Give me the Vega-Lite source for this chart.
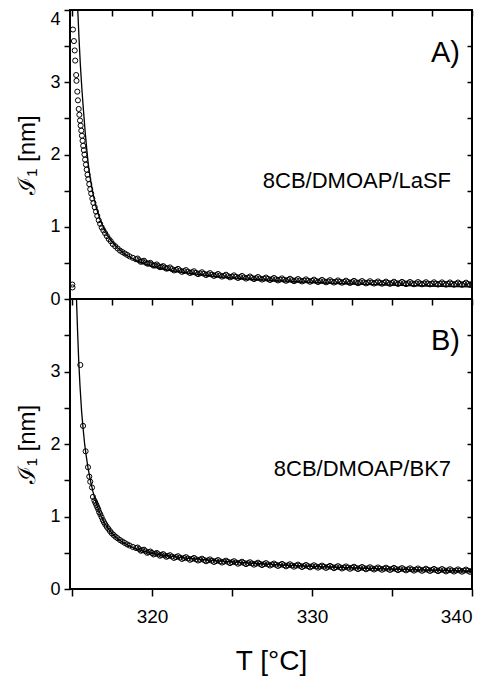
{
"$schema": "https://vega.github.io/schema/vega-lite/v6.json",
"background": "white",
"padding": {"left": 14, "top": 8, "right": 10, "bottom": 0},
"bounds": "flush",
"spacing": 0,
"config": {
 "view": {"stroke": "black", "strokeWidth": 2},
 "axis": {"labelFont": "Liberation Sans", "titleFont": "Liberation Sans", "labelColor": "black", "titleColor": "black", "tickColor": "black", "grid": false, "domain": false, "titleFontWeight": "normal", "tickWidth": 1.5},
 "text": {"font": "Liberation Sans", "color": "black"}
},
"datasets": {
 "ptsA": [{"T":315.02,"v":0.20},{"T":315.03,"v":0.16},{"T":315.06,"v":3.73},{"T":315.12,"v":3.57},{"T":315.17,"v":3.44},{"T":315.2,"v":3.30},{"T":315.26,"v":3.10},{"T":315.28,"v":3.02},{"T":315.33,"v":2.87},{"T":315.37,"v":2.75},{"T":315.42,"v":2.63},{"T":315.46,"v":2.55},{"T":315.5,"v":2.47},{"T":315.54,"v":2.40},{"T":315.58,"v":2.33},{"T":315.62,"v":2.26},{"T":315.66,"v":2.19},{"T":315.7,"v":2.12},{"T":315.74,"v":2.06},{"T":315.78,"v":2.0},{"T":315.82,"v":1.93},{"T":315.87,"v":1.86},{"T":315.92,"v":1.79},{"T":315.97,"v":1.72},{"T":316.02,"v":1.66},{"T":316.08,"v":1.59},{"T":316.14,"v":1.52},{"T":316.2,"v":1.46},{"T":316.27,"v":1.39},{"T":316.34,"v":1.33},{"T":316.42,"v":1.27},{"T":316.5,"v":1.21},{"T":316.58,"v":1.15},{"T":316.67,"v":1.09},{"T":316.76,"v":1.04},{"T":316.86,"v":0.99},{"T":316.96,"v":0.95},{"T":317.07,"v":0.91},{"T":317.18,"v":0.87},{"T":317.3,"v":0.83},{"T":317.42,"v":0.8},{"T":317.55,"v":0.76},{"T":317.7,"v":0.73},{"T":317.85,"v":0.7},{"T":318.0,"v":0.67},{"T":318.15,"v":0.65},{"T":318.3,"v":0.63},{"T":318.45,"v":0.61},{"T":318.6,"v":0.59},{"T":318.8,"v":0.57},{"T":319.0,"v":0.55},{"T":319.2,"v":0.535},{"T":319.4,"v":0.52},{"T":319.6,"v":0.505},{"T":319.8,"v":0.49},{"T":320.0,"v":0.478},{"T":320.2,"v":0.465},{"T":320.4,"v":0.455},{"T":320.6,"v":0.445},{"T":320.8,"v":0.435},{"T":321.0,"v":0.425},{"T":321.25,"v":0.414},{"T":321.5,"v":0.404},{"T":321.75,"v":0.395},{"T":322.0,"v":0.386},{"T":322.25,"v":0.378},{"T":322.5,"v":0.37},{"T":322.75,"v":0.362},{"T":323.0,"v":0.355},{"T":323.25,"v":0.349},{"T":323.5,"v":0.343},{"T":323.75,"v":0.337},{"T":324.0,"v":0.331},{"T":324.25,"v":0.326},{"T":324.5,"v":0.321},{"T":324.75,"v":0.316},{"T":325.0,"v":0.311},{"T":325.25,"v":0.307},{"T":325.5,"v":0.303},{"T":325.75,"v":0.299},{"T":326.0,"v":0.295},{"T":326.25,"v":0.291},{"T":326.5,"v":0.288},{"T":326.75,"v":0.284},{"T":327.0,"v":0.281},{"T":327.25,"v":0.278},{"T":327.5,"v":0.275},{"T":327.75,"v":0.272},{"T":328.0,"v":0.269},{"T":328.25,"v":0.266},{"T":328.5,"v":0.264},{"T":328.75,"v":0.261},{"T":329.0,"v":0.259},{"T":329.25,"v":0.257},{"T":329.5,"v":0.255},{"T":329.75,"v":0.253},{"T":330.0,"v":0.251},{"T":330.25,"v":0.249},{"T":330.5,"v":0.247},{"T":330.75,"v":0.245},{"T":331.0,"v":0.243},{"T":331.25,"v":0.242},{"T":331.5,"v":0.240},{"T":331.75,"v":0.238},{"T":332.0,"v":0.237},{"T":332.25,"v":0.235},{"T":332.5,"v":0.234},{"T":332.75,"v":0.232},{"T":333.0,"v":0.231},{"T":333.25,"v":0.230},{"T":333.5,"v":0.228},{"T":333.75,"v":0.227},{"T":334.0,"v":0.226},{"T":334.25,"v":0.225},{"T":334.5,"v":0.224},{"T":334.75,"v":0.223},{"T":335.0,"v":0.222},{"T":335.25,"v":0.221},{"T":335.5,"v":0.220},{"T":335.75,"v":0.219},{"T":336.0,"v":0.218},{"T":336.25,"v":0.217},{"T":336.5,"v":0.216},{"T":336.75,"v":0.216},{"T":337.0,"v":0.215},{"T":337.25,"v":0.214},{"T":337.5,"v":0.213},{"T":337.75,"v":0.213},{"T":338.0,"v":0.212},{"T":338.25,"v":0.211},{"T":338.5,"v":0.211},{"T":338.75,"v":0.210},{"T":339.0,"v":0.210},{"T":339.25,"v":0.209},{"T":339.5,"v":0.209},{"T":339.75,"v":0.208},{"T":340.0,"v":0.208},
 {"T":319.1,"v":0.56},{"T":319.3,"v":0.515},{"T":319.5,"v":0.53},{"T":319.7,"v":0.49},{"T":319.9,"v":0.50},{"T":320.1,"v":0.462},{"T":320.3,"v":0.478},{"T":320.5,"v":0.44},{"T":320.7,"v":0.455},{"T":320.9,"v":0.42},{"T":321.125,"v":0.437},{"T":321.375,"v":0.395},{"T":321.625,"v":0.417},{"T":321.875,"v":0.376},{"T":322.125,"v":0.400},{"T":322.375,"v":0.360},{"T":322.625,"v":0.384},{"T":322.875,"v":0.344},{"T":323.125,"v":0.370},{"T":323.375,"v":0.332},{"T":323.625,"v":0.358},{"T":323.875,"v":0.320},{"T":324.125,"v":0.346},{"T":324.375,"v":0.310},{"T":324.625,"v":0.336},{"T":324.875,"v":0.300},{"T":325.125,"v":0.327},{"T":325.375,"v":0.291},{"T":325.625,"v":0.319},{"T":325.875,"v":0.283},{"T":326.125,"v":0.311},{"T":326.375,"v":0.276},{"T":326.625,"v":0.304},{"T":326.875,"v":0.269},{"T":327.125,"v":0.297},{"T":327.375,"v":0.263},{"T":327.625,"v":0.291},{"T":327.875,"v":0.257},{"T":328.125,"v":0.285},{"T":328.375,"v":0.252},{"T":328.625,"v":0.280},{"T":328.875,"v":0.247},{"T":329.125,"v":0.276},{"T":329.375,"v":0.243},{"T":329.625,"v":0.272},{"T":329.875,"v":0.239},{"T":330.125,"v":0.268},{"T":330.375,"v":0.235},{"T":330.625,"v":0.264},{"T":330.875,"v":0.231},{"T":331.125,"v":0.260},{"T":331.375,"v":0.228},{"T":331.625,"v":0.257},{"T":331.875,"v":0.225},{"T":332.125,"v":0.254},{"T":332.375,"v":0.222},{"T":332.625,"v":0.251},{"T":332.875,"v":0.219},{"T":333.125,"v":0.248},{"T":333.375,"v":0.216},{"T":333.625,"v":0.246},{"T":333.875,"v":0.214},{"T":334.125,"v":0.243},{"T":334.375,"v":0.212},{"T":334.625,"v":0.241},{"T":334.875,"v":0.210},{"T":335.125,"v":0.239},{"T":335.375,"v":0.208},{"T":335.625,"v":0.237},{"T":335.875,"v":0.206},{"T":336.125,"v":0.235},{"T":336.375,"v":0.204},{"T":336.625,"v":0.234},{"T":336.875,"v":0.203},{"T":337.125,"v":0.232},{"T":337.375,"v":0.202},{"T":337.625,"v":0.231},{"T":337.875,"v":0.200},{"T":338.125,"v":0.230},{"T":338.375,"v":0.199},{"T":338.625,"v":0.229},{"T":338.875,"v":0.198},{"T":339.125,"v":0.228},{"T":339.375,"v":0.197},{"T":339.625,"v":0.226},{"T":339.875,"v":0.196}],
 "lineA": [{"T":315.36,"v":4.0},{"T":315.44,"v":3.6},{"T":315.52,"v":3.25},{"T":315.62,"v":2.9},{"T":315.72,"v":2.6},{"T":315.82,"v":2.32},{"T":315.92,"v":2.08},{"T":316.02,"v":1.86},{"T":316.15,"v":1.66},{"T":316.3,"v":1.47},{"T":316.5,"v":1.28},{"T":316.75,"v":1.1},{"T":317.05,"v":0.95},{"T":317.4,"v":0.82},{"T":317.8,"v":0.72},{"T":318.3,"v":0.62},{"T":319.0,"v":0.53},{"T":320.0,"v":0.45},{"T":321.0,"v":0.40},{"T":322.5,"v":0.35},{"T":324.0,"v":0.31},{"T":326.0,"v":0.275},{"T":328.0,"v":0.25},{"T":330.0,"v":0.23},{"T":332.0,"v":0.212},{"T":334.0,"v":0.198},{"T":336.0,"v":0.186},{"T":338.0,"v":0.176},{"T":340.0,"v":0.167}],
 "ptsB": [{"T":315.52,"v":3.09},{"T":315.69,"v":2.25},{"T":315.85,"v":1.90},{"T":316.0,"v":1.68},{"T":316.08,"v":1.55},{"T":316.14,"v":1.48},{"T":316.25,"v":1.40},{"T":316.31,"v":1.27},{"T":316.4,"v":1.22},{"T":316.46,"v":1.19},{"T":316.52,"v":1.16},{"T":316.58,"v":1.13},{"T":316.64,"v":1.10},{"T":316.7,"v":1.06},{"T":316.77,"v":1.03},{"T":316.85,"v":0.99},{"T":316.93,"v":0.95},{"T":317.0,"v":0.92},{"T":317.08,"v":0.89},{"T":317.17,"v":0.86},{"T":317.27,"v":0.83},{"T":317.37,"v":0.80},{"T":317.48,"v":0.77},{"T":317.6,"v":0.745},{"T":317.72,"v":0.72},{"T":317.85,"v":0.70},{"T":318.0,"v":0.675},{"T":318.15,"v":0.655},{"T":318.3,"v":0.635},{"T":318.45,"v":0.615},{"T":318.6,"v":0.60},{"T":318.8,"v":0.58},{"T":319.0,"v":0.565},{"T":319.2,"v":0.55},{"T":319.4,"v":0.535},{"T":319.6,"v":0.52},{"T":319.8,"v":0.508},{"T":320.0,"v":0.497},{"T":320.2,"v":0.487},{"T":320.4,"v":0.478},{"T":320.6,"v":0.47},{"T":320.8,"v":0.462},{"T":321.0,"v":0.455},{"T":321.25,"v":0.447},{"T":321.5,"v":0.44},{"T":321.75,"v":0.433},{"T":322.0,"v":0.427},{"T":322.25,"v":0.421},{"T":322.5,"v":0.415},{"T":322.75,"v":0.41},{"T":323.0,"v":0.405},{"T":323.25,"v":0.40},{"T":323.5,"v":0.395},{"T":323.75,"v":0.39},{"T":324.0,"v":0.386},{"T":324.25,"v":0.382},{"T":324.5,"v":0.378},{"T":324.75,"v":0.374},{"T":325.0,"v":0.37},{"T":325.25,"v":0.366},{"T":325.5,"v":0.362},{"T":325.75,"v":0.359},{"T":326.0,"v":0.356},{"T":326.25,"v":0.352},{"T":326.5,"v":0.349},{"T":326.75,"v":0.346},{"T":327.0,"v":0.343},{"T":327.25,"v":0.34},{"T":327.5,"v":0.337},{"T":327.75,"v":0.334},{"T":328.0,"v":0.332},{"T":328.25,"v":0.329},{"T":328.5,"v":0.327},{"T":328.75,"v":0.324},{"T":329.0,"v":0.322},{"T":329.25,"v":0.319},{"T":329.5,"v":0.317},{"T":329.75,"v":0.315},{"T":330.0,"v":0.313},{"T":330.25,"v":0.311},{"T":330.5,"v":0.309},{"T":330.75,"v":0.307},{"T":331.0,"v":0.305},{"T":331.25,"v":0.303},{"T":331.5,"v":0.301},{"T":331.75,"v":0.299},{"T":332.0,"v":0.297},{"T":332.25,"v":0.295},{"T":332.5,"v":0.293},{"T":332.75,"v":0.291},{"T":333.0,"v":0.289},{"T":333.25,"v":0.288},{"T":333.5,"v":0.286},{"T":333.75,"v":0.284},{"T":334.0,"v":0.283},{"T":334.25,"v":0.281},{"T":334.5,"v":0.28},{"T":334.75,"v":0.278},{"T":335.0,"v":0.277},{"T":335.25,"v":0.275},{"T":335.5,"v":0.274},{"T":335.75,"v":0.272},{"T":336.0,"v":0.271},{"T":336.25,"v":0.269},{"T":336.5,"v":0.268},{"T":336.75,"v":0.267},{"T":337.0,"v":0.265},{"T":337.25,"v":0.264},{"T":337.5,"v":0.263},{"T":337.75,"v":0.261},{"T":338.0,"v":0.26},{"T":338.25,"v":0.259},{"T":338.5,"v":0.257},{"T":338.75,"v":0.256},{"T":339.0,"v":0.255},{"T":339.25,"v":0.254},{"T":339.5,"v":0.253},{"T":339.75,"v":0.252},{"T":340.0,"v":0.251},
 {"T":319.1,"v":0.572},{"T":319.3,"v":0.528},{"T":319.5,"v":0.542},{"T":319.7,"v":0.499},{"T":319.9,"v":0.517},{"T":320.1,"v":0.477},{"T":320.3,"v":0.497},{"T":320.5,"v":0.459},{"T":320.7,"v":0.481},{"T":320.9,"v":0.444},{"T":321.125,"v":0.466},{"T":321.375,"v":0.429},{"T":321.625,"v":0.452},{"T":321.875,"v":0.415},{"T":322.125,"v":0.439},{"T":322.375,"v":0.403},{"T":322.625,"v":0.428},{"T":322.875,"v":0.393},{"T":323.125,"v":0.418},{"T":323.375,"v":0.383},{"T":323.625,"v":0.408},{"T":323.875,"v":0.373},{"T":324.125,"v":0.399},{"T":324.375,"v":0.365},{"T":324.625,"v":0.391},{"T":324.875,"v":0.357},{"T":325.125,"v":0.383},{"T":325.375,"v":0.349},{"T":325.625,"v":0.376},{"T":325.875,"v":0.343},{"T":326.125,"v":0.369},{"T":326.375,"v":0.336},{"T":326.625,"v":0.363},{"T":326.875,"v":0.330},{"T":327.125,"v":0.357},{"T":327.375,"v":0.324},{"T":327.625,"v":0.351},{"T":327.875,"v":0.318},{"T":328.125,"v":0.346},{"T":328.375,"v":0.313},{"T":328.625,"v":0.341},{"T":328.875,"v":0.308},{"T":329.125,"v":0.336},{"T":329.375,"v":0.303},{"T":329.625,"v":0.331},{"T":329.875,"v":0.299},{"T":330.125,"v":0.327},{"T":330.375,"v":0.295},{"T":330.625,"v":0.323},{"T":330.875,"v":0.291},{"T":331.125,"v":0.319},{"T":331.375,"v":0.287},{"T":331.625,"v":0.315},{"T":331.875,"v":0.283},{"T":332.125,"v":0.311},{"T":332.375,"v":0.279},{"T":332.625,"v":0.307},{"T":332.875,"v":0.275},{"T":333.125,"v":0.303},{"T":333.375,"v":0.272},{"T":333.625,"v":0.300},{"T":333.875,"v":0.269},{"T":334.125,"v":0.297},{"T":334.375,"v":0.266},{"T":334.625,"v":0.294},{"T":334.875,"v":0.263},{"T":335.125,"v":0.291},{"T":335.375,"v":0.260},{"T":335.625,"v":0.288},{"T":335.875,"v":0.257},{"T":336.125,"v":0.285},{"T":336.375,"v":0.254},{"T":336.625,"v":0.283},{"T":336.875,"v":0.251},{"T":337.125,"v":0.280},{"T":337.375,"v":0.249},{"T":337.625,"v":0.277},{"T":337.875,"v":0.246},{"T":338.125,"v":0.275},{"T":338.375,"v":0.243},{"T":338.625,"v":0.272},{"T":338.875,"v":0.241},{"T":339.125,"v":0.270},{"T":339.375,"v":0.239},{"T":339.625,"v":0.268},{"T":339.875,"v":0.237}],
 "lineB": [{"T":315.28,"v":4.0},{"T":315.35,"v":3.55},{"T":315.42,"v":3.15},{"T":315.5,"v":2.8},{"T":315.6,"v":2.45},{"T":315.7,"v":2.2},{"T":315.8,"v":1.98},{"T":315.9,"v":1.82},{"T":316.0,"v":1.67},{"T":316.15,"v":1.5},{"T":316.3,"v":1.35},{"T":316.5,"v":1.19},{"T":316.75,"v":1.04},{"T":317.0,"v":0.92},{"T":317.3,"v":0.82},{"T":317.7,"v":0.72},{"T":318.2,"v":0.64},{"T":318.8,"v":0.57},{"T":319.5,"v":0.52},{"T":320.5,"v":0.47},{"T":322.0,"v":0.43},{"T":324.0,"v":0.39},{"T":326.0,"v":0.36},{"T":328.0,"v":0.333},{"T":330.0,"v":0.313},{"T":333.0,"v":0.288},{"T":336.0,"v":0.268},{"T":340.0,"v":0.245}],
 "tagA": [{"T":339.25,"v":3.40,"label":"A)"}],
 "nameA": [{"T":338.69,"v":1.63,"label":"8CB/DMOAP/LaSF"}],
 "tagB": [{"T":339.25,"v":3.42,"label":"B)"}],
 "nameB": [{"T":338.69,"v":1.66,"label":"8CB/DMOAP/BK7"}]
},
"vconcat": [
 {
  "width": 402, "height": 289,
  "resolve": {"axis": {"x": "independent", "y": "independent"}},
  "layer": [
   {"data": {"name": "ptsA"},
    "mark": {"type": "point", "shape": "circle", "filled": false, "color": "black", "size": 26, "strokeWidth": 1.0, "opacity": 1, "clip": true},
    "encoding": {
     "x": {"field": "T", "type": "quantitative", "scale": {"domain": [314.875, 340], "nice": false, "zero": false}, "axis": null},
     "y": {"field": "v", "type": "quantitative", "scale": {"domain": [0, 4], "nice": false}, "axis": {"orient": "left", "values": [0,0.5,1,1.5,2,2.5,3,3.5,4], "labelExpr": "datum.value % 1 == 0 ? format(datum.value, 'd') : ''", "labelBaseline": {"condition": {"test": "datum.value == 4", "value": "top"}, "value": "middle"}, "tickSize": 6, "labelFontSize": 18, "labelPadding": 4, "title": "ℐ₁ [nm]", "titleFontSize": 24, "titlePadding": 10}}
    }},
   {"data": {"name": "lineA"},
    "mark": {"type": "line", "color": "black", "strokeWidth": 1.3, "clip": true},
    "encoding": {
     "x": {"field": "T", "type": "quantitative", "axis": {"orient": "top", "values": [315,317.5,320,322.5,325,327.5,330,332.5,335,337.5,340], "labels": false, "tickSize": -6, "title": null}},
     "y": {"field": "v", "type": "quantitative", "axis": {"orient": "right", "values": [0.5,1,1.5,2,2.5,3,3.5], "labels": false, "tickSize": -5, "title": null}}
    }},
   {"data": {"name": "tagA"},
    "mark": {"type": "text", "align": "right", "baseline": "middle", "fontSize": 29},
    "encoding": {"x": {"field": "T", "type": "quantitative", "axis": null}, "y": {"field": "v", "type": "quantitative", "axis": null}, "text": {"field": "label"}}},
   {"data": {"name": "nameA"},
    "mark": {"type": "text", "align": "right", "baseline": "middle", "fontSize": 22},
    "encoding": {"x": {"field": "T", "type": "quantitative", "axis": null}, "y": {"field": "v", "type": "quantitative", "axis": null}, "text": {"field": "label"}}}
  ]
 },
 {
  "width": 402, "height": 290,
  "resolve": {"axis": {"x": "independent", "y": "independent"}},
  "layer": [
   {"data": {"name": "ptsB"},
    "mark": {"type": "point", "shape": "circle", "filled": false, "color": "black", "size": 26, "strokeWidth": 1.0, "opacity": 1, "clip": true},
    "encoding": {
     "x": {"field": "T", "type": "quantitative", "scale": {"domain": [314.875, 340], "nice": false, "zero": false}, "axis": {"orient": "bottom", "values": [315,320,325,330,335,340], "labelExpr": "datum.value % 10 == 0 ? format(datum.value, 'd') : ''", "tickSize": 7, "labelFontSize": 19, "labelPadding": 11, "title": "T [°C]", "titleFontSize": 28, "titlePadding": 21}},
     "y": {"field": "v", "type": "quantitative", "scale": {"domain": [0, 4], "nice": false}, "axis": {"orient": "left", "values": [0,0.5,1,1.5,2,2.5,3,3.5], "labelExpr": "datum.value % 1 == 0 ? format(datum.value, 'd') : ''", "tickSize": 6, "labelFontSize": 18, "labelPadding": 4, "title": "ℐ₁ [nm]", "titleFontSize": 24, "titlePadding": 10}}
    }},
   {"data": {"name": "lineB"},
    "mark": {"type": "line", "color": "black", "strokeWidth": 1.3, "clip": true},
    "encoding": {
     "x": {"field": "T", "type": "quantitative", "axis": {"orient": "top", "values": [315,317.5,320,322.5,325,327.5,330,332.5,335,337.5,340], "labels": false, "tickSize": -6, "title": null}},
     "y": {"field": "v", "type": "quantitative", "axis": {"orient": "right", "values": [0.5,1,1.5,2,2.5,3,3.5], "labels": false, "tickSize": -5, "title": null}}
    }},
   {"data": {"name": "tagB"},
    "mark": {"type": "text", "align": "right", "baseline": "middle", "fontSize": 29},
    "encoding": {"x": {"field": "T", "type": "quantitative", "axis": null}, "y": {"field": "v", "type": "quantitative", "axis": null}, "text": {"field": "label"}}},
   {"data": {"name": "nameB"},
    "mark": {"type": "text", "align": "right", "baseline": "middle", "fontSize": 22},
    "encoding": {"x": {"field": "T", "type": "quantitative", "axis": null}, "y": {"field": "v", "type": "quantitative", "axis": null}, "text": {"field": "label"}}}
  ]
 }
]
}
